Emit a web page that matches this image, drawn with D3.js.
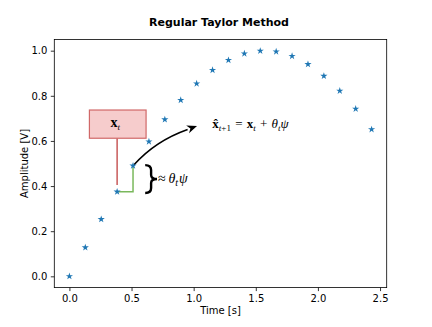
<!doctype html>
<html lang="en">
<head>
    <meta charset="utf-8">
    <title>Regular Taylor Method</title>
    <script src="https://cdnjs.cloudflare.com/ajax/libs/d3/7.8.5/d3.min.js"></script>
    <style>
        body { margin: 0; background: #fff; }
        svg text { font-family: "DejaVu Sans", sans-serif; }
        .math { font-family: "Liberation Serif", "DejaVu Serif", serif; }
        .tick text { font-size: 10px; }
    </style>
</head>
<body>
    <div id="chart"></div>
    <script>
        // sample times and amplitudes
        var times = [0, 0.128, 0.256, 0.384, 0.512, 0.640, 0.768, 0.896, 1.024, 1.152,
                     1.280, 1.408, 1.536, 1.664, 1.792, 1.920, 2.048, 2.176, 2.304, 2.432];
        var amps = [0, 0.128, 0.253, 0.375, 0.490, 0.597, 0.695, 0.781, 0.854, 0.914,
                    0.958, 0.987, 0.999, 0.996, 0.976, 0.940, 0.888, 0.822, 0.742, 0.651];
        var xTicks = [0, 0.5, 1.0, 1.5, 2.0, 2.5];
        var yTicks = [0, 0.2, 0.4, 0.6, 0.8, 1.0];

        var width = 432, height = 327;
        var plotL = 54.3, plotR = 386.7, plotT = 39.4, plotB = 287.6;

        var svg = d3.select('#chart')
            .append('svg')
            .attr('width', width)
            .attr('height', height);

        var x = d3.scaleLinear().domain([-0.1216, 2.5536]).range([plotL, plotR]);
        var y = d3.scaleLinear().domain([-0.05, 1.05]).range([plotB, plotT]);

        // axes
        svg.append('g')
            .attr('transform', 'translate(0,' + plotB + ')')
            .call(d3.axisBottom(x).tickValues(xTicks).tickFormat(d3.format('.1f')).tickSizeOuter(0).tickSize(3.5).tickPadding(3.5))
            .call(function(g){ g.select('.domain').remove(); });

        svg.append('g')
            .attr('transform', 'translate(' + plotL + ',0)')
            .call(d3.axisLeft(y).tickValues(yTicks).tickFormat(d3.format('.1f')).tickSizeOuter(0).tickSize(3.5).tickPadding(3.5))
            .call(function(g){ g.select('.domain').remove(); });

        svg.selectAll('.tick line').attr('stroke', '#000').attr('stroke-width', 0.8);
        svg.selectAll('.tick text').attr('fill', '#000');

        svg.append('rect')
            .attr('x', plotL).attr('y', plotT)
            .attr('width', plotR - plotL).attr('height', plotB - plotT)
            .attr('fill', 'none').attr('stroke', '#000').attr('stroke-width', 0.8);

        // title and labels
        svg.append('text')
            .attr('x', (plotL + plotR) / 2 - 1.5).attr('y', 25.5)
            .attr('text-anchor', 'middle')
            .style('font-size', '11px').style('font-weight', 'bold')
            .text('Regular Taylor Method');

        svg.append('text')
            .attr('x', (plotL + plotR) / 2).attr('y', 314)
            .attr('text-anchor', 'middle')
            .style('font-size', '10px')
            .text('Time [s]');

        svg.append('text')
            .attr('transform', 'translate(24.5,' + ((plotT + plotB) / 2) + ') rotate(-90)')
            .attr('text-anchor', 'middle')
            .attr('dy', '0.35em')
            .style('font-size', '10px')
            .text('Amplitude [V]');

        // annotations, placed in data units
        var i0 = 3, i1 = 4;
        var boxX = [0.161, 0.617], boxY = [0.612, 0.737];

        svg.append('line')
            .attr('x1', x(times[i0])).attr('x2', x(times[i0]))
            .attr('y1', y(boxY[0])).attr('y2', y(0.405))
            .attr('stroke', '#c85a5a').attr('stroke-width', 1.5);

        svg.append('rect')
            .attr('x', x(boxX[0])).attr('y', y(boxY[1]))
            .attr('width', x(boxX[1]) - x(boxX[0]))
            .attr('height', y(boxY[0]) - y(boxY[1]))
            .attr('fill', '#f6cccc').attr('stroke', '#d06868').attr('stroke-width', 1.2);

        var bt = svg.append('text').attr('class', 'math')
            .attr('x', x(0.37)).attr('y', y(0.662))
            .attr('text-anchor', 'middle')
            .style('font-size', '14px');
        bt.append('tspan').style('font-weight', 'bold').text('x');
        bt.append('tspan').attr('dy', 3).style('font-style', 'italic').style('font-size', '9px').text('t');

        // green step
        svg.append('path')
            .attr('d', 'M' + x(times[i0]) + ',' + y(amps[i0]) +
                       'H' + x(times[i1]) + 'V' + y(amps[i1]))
            .attr('fill', 'none').attr('stroke', '#7ab85c').attr('stroke-width', 1.5);

        // curved arrow
        var p0 = [x(times[i1]) + 1, y(amps[i1]) - 1];
        var c = [x(0.69), y(0.600)];
        var p2 = [x(1.027), y(0.666)];
        var ang = Math.atan2(p2[1] - c[1], p2[0] - c[0]);
        var hl = 10, hw = 4.2;
        var base = [p2[0] - hl * Math.cos(ang), p2[1] - hl * Math.sin(ang)];
        svg.append('path')
            .attr('d', 'M' + p0 + 'Q' + c + ' ' + base)
            .attr('fill', 'none').attr('stroke', '#000').attr('stroke-width', 1.6);
        svg.append('path')
            .attr('d', 'M' + p2 +
                'L' + [base[0] + hw * Math.sin(ang), base[1] - hw * Math.cos(ang)] +
                'L' + [base[0] + 3 * Math.cos(ang), base[1] + 3 * Math.sin(ang)] +
                'L' + [base[0] - hw * Math.sin(ang), base[1] + hw * Math.cos(ang)] + 'Z')
            .attr('fill', '#000');

        // brace
        var bx0 = x(0.61), bx1 = x(0.705), by0 = y(0.493), by1 = y(0.369), bm = (by0 + by1) / 2;
        var bxm = (bx0 + bx1) / 2;
        svg.append('path')
            .attr('d', 'M' + bx0 + ',' + by0 +
                'Q' + bxm + ',' + by0 + ' ' + bxm + ',' + (by0 + 5) +
                'V' + (bm - 4) +
                'Q' + bxm + ',' + bm + ' ' + bx1 + ',' + bm +
                'Q' + bxm + ',' + bm + ' ' + bxm + ',' + (bm + 4) +
                'V' + (by1 - 5) +
                'Q' + bxm + ',' + by1 + ' ' + bx0 + ',' + by1)
            .attr('fill', 'none').attr('stroke', '#000').attr('stroke-width', 2.4);

        var at = svg.append('text').attr('class', 'math')
            .attr('x', x(0.712)).attr('y', y(0.412))
            .style('font-size', '14px');
        at.append('tspan').text('\u2248\u2009');
        at.append('tspan').style('font-style', 'italic').text('\u03b8');
        at.append('tspan').attr('dy', 3).style('font-style', 'italic').style('font-size', '10px').text('t');
        at.append('tspan').attr('dy', -3).attr('dx', 1).style('font-style', 'italic').text('\u03c8');

        var et = svg.append('text').attr('class', 'math')
            .attr('x', x(1.15)).attr('y', y(0.658))
            .style('font-size', '13px');
        et.append('tspan').style('font-weight', 'bold').text('x\u0302');
        et.append('tspan').attr('dy', 3).style('font-style', 'italic').style('font-size', '9px').text('t');
        et.append('tspan').style('font-size', '9px').text('+1');
        et.append('tspan').attr('dy', -3).attr('dx', 1).text(' = ');
        et.append('tspan').attr('dx', 1).style('font-weight', 'bold').text('x');
        et.append('tspan').attr('dy', 3).style('font-style', 'italic').style('font-size', '9px').text('t');
        et.append('tspan').attr('dy', -3).attr('dx', 1).text(' + ');
        et.append('tspan').attr('dx', 1).style('font-style', 'italic').text('\u03b8');
        et.append('tspan').attr('dy', 3).style('font-style', 'italic').style('font-size', '9px').text('t');
        et.append('tspan').attr('dy', -3).style('font-style', 'italic').text('\u03c8');

        // star markers
        svg.append('g').selectAll('path')
            .data(times)
            .enter().append('path')
            .attr('d', d3.symbol().type(d3.symbolStar).size(16))
            .attr('transform', function(d, i){
                return 'translate(' + x(d) + ',' + y(amps[i]) + ')';
            })
            .attr('fill', '#1f77b4');
    </script>
</body>
</html>
